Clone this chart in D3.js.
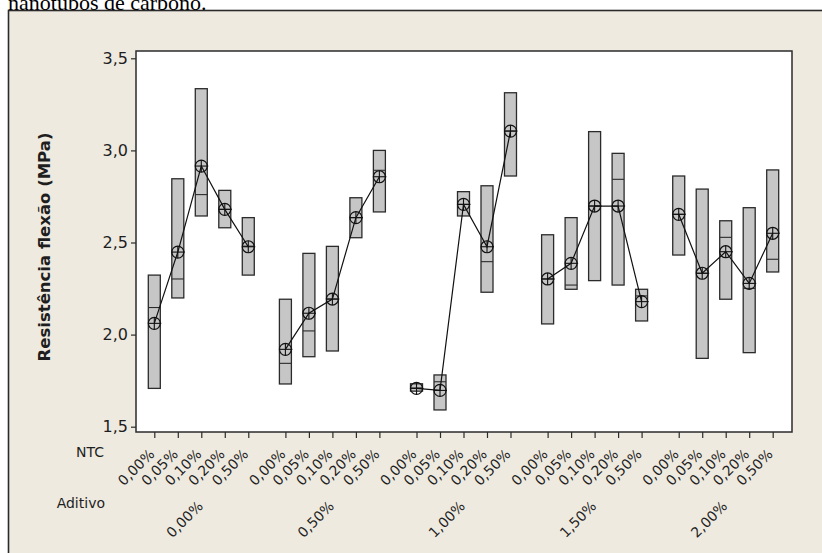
<!DOCTYPE html>
<html>
<head>
<meta charset="utf-8">
<script src="https://cdn.jsdelivr.net/npm/d3@7"></script>
<style>
  body { margin: 0; background: #ffffff; }
  svg { display: block; }
</style>
</head>
<body>
<svg id="chart" width="822" height="553"></svg>
<script>
// Additive levels (outer grouping) and NTC levels (inner grouping)
const aditivo = ["0,00%", "0,50%", "1,00%", "1,50%", "2,00%"];
const ntc = ["0,00%", "0,05%", "0,10%", "0,20%", "0,50%"];
const yTicks = [1.5, 2.0, 2.5, 3.0, 3.5];

// Box limits (lower / upper), median and mean, one row per additive level
const boxLow = [
  [1.708, 2.199, 2.644, 2.580, 2.323],
  [1.732, 1.880, 1.911, 2.526, 2.666],
  [1.693, 1.591, 2.644, 2.230, 2.861],
  [2.058, 2.246, 2.293, 2.269, 2.074],
  [2.432, 1.871, 2.192, 1.902, 2.340]
];
const boxHigh = [
  [2.323, 2.846, 3.335, 2.783, 2.635],
  [2.192, 2.441, 2.479, 2.743, 3.000],
  [1.733, 1.781, 2.776, 2.808, 3.313],
  [2.542, 2.635, 3.102, 2.984, 2.246],
  [2.861, 2.790, 2.618, 2.689, 2.894]
];
const medians = [
  [2.147, 2.302, 2.760, 2.680, 2.480],
  [1.844, 2.020, 2.193, 2.635, 2.892],
  [1.710, 1.744, 2.707, 2.396, 3.105],
  [2.302, 2.269, 2.698, 2.843, 2.210],
  [2.653, 2.333, 2.528, 2.251, 2.409]
];
const means = [
  [2.061, 2.448, 2.915, 2.680, 2.477],
  [1.920, 2.116, 2.193, 2.635, 2.857],
  [1.708, 1.697, 2.707, 2.477, 3.105],
  [2.302, 2.387, 2.698, 2.698, 2.179],
  [2.653, 2.333, 2.450, 2.278, 2.550]
];

const svg = d3.select("#chart");
const W = 822, H = 553;
const plot = { left: 136, top: 51, right: 792, bottom: 432 };
const textColor = "#1e1e1e";
const font = "'DejaVu Sans', Verdana, sans-serif";

// Outer panel
svg.append("rect").attr("x", 0).attr("y", 0).attr("width", W).attr("height", H).attr("fill", "#ffffff");
svg.append("rect").attr("x", 8.5).attr("y", 10.5).attr("width", W + 10).attr("height", H + 10)
  .attr("fill", "#eeeae0").attr("stroke", "#2b2b2b").attr("stroke-width", 1.6);

// Caption line partly visible above the panel
svg.append("text").attr("x", 8).attr("y", 9.5)
  .attr("font-family", "'Liberation Serif', 'Times New Roman', serif")
  .attr("font-size", 22).attr("fill", "#000")
  .text("nanotubos de carbono.");

// Plot area
svg.append("rect").attr("x", plot.left).attr("y", plot.top)
  .attr("width", plot.right - plot.left).attr("height", plot.bottom - plot.top)
  .attr("fill", "#ffffff");

// Scales
const groupGap = 0.58;
const pos = (g, i) => g * (ntc.length + groupGap) + i;
const x = d3.scaleLinear()
  .domain([0, pos(aditivo.length - 1, ntc.length - 1)])
  .range([154.3, 772.7]);
const y = d3.scaleLinear().domain([1.5, 3.5]).range([426.7, 58.3]);

// Y axis
const yAxis = svg.append("g").attr("transform", `translate(${plot.left},0)`)
  .call(d3.axisLeft(y).tickValues(yTicks).tickSize(5).tickPadding(3)
    .tickFormat(d => d3.format(".1f")(d).replace(".", ",")));
yAxis.select(".domain").remove();
yAxis.selectAll("line").attr("stroke", "#2b2b2b").attr("stroke-width", 1.2);
yAxis.selectAll("text").attr("font-family", font).attr("font-size", 16).attr("fill", textColor);

// X axis ticks
const allPos = [];
aditivo.forEach((a, g) => ntc.forEach((n, i) => allPos.push(pos(g, i))));
const xAxis = svg.append("g").attr("transform", `translate(0,${plot.bottom})`)
  .call(d3.axisBottom(x).tickValues(allPos).tickSize(6).tickFormat(""));
xAxis.select(".domain").remove();
xAxis.selectAll("line").attr("stroke", "#2b2b2b").attr("stroke-width", 1.2);

// Inner (NTC) tick labels
aditivo.forEach((a, g) => {
  ntc.forEach((n, i) => {
    svg.append("text")
      .attr("transform", `translate(${x(pos(g, i)) + 1},455) rotate(-45)`)
      .attr("text-anchor", "end")
      .attr("font-family", font).attr("font-size", 14).attr("fill", textColor)
      .text(n);
  });
  // Outer (additive) labels, centred under each group
  svg.append("text")
    .attr("transform", `translate(${x(pos(g, 2)) + 2.5},507) rotate(-45)`)
    .attr("text-anchor", "end")
    .attr("font-family", font).attr("font-size", 14).attr("fill", textColor)
    .text(a);
});

// Row titles for the two x levels
svg.append("text").attr("x", 104).attr("y", 457).attr("text-anchor", "end")
  .attr("font-family", font).attr("font-size", 14).attr("fill", textColor).text("NTC");
svg.append("text").attr("x", 105).attr("y", 508).attr("text-anchor", "end")
  .attr("font-family", font).attr("font-size", 14).attr("fill", textColor).text("Aditivo");

// Y axis title
svg.append("text")
  .attr("transform", "translate(50,247) rotate(-90)")
  .attr("text-anchor", "middle")
  .attr("font-family", font).attr("font-size", 16.5).attr("font-weight", "bold")
  .attr("fill", textColor)
  .text("Resistência flexão (MPa)");

// Boxes and medians
const boxW = 12;
const marks = svg.append("g");
aditivo.forEach((a, g) => {
  ntc.forEach((n, i) => {
    const cx = x(pos(g, i));
    marks.append("rect")
      .attr("x", cx - boxW / 2).attr("width", boxW)
      .attr("y", y(boxHigh[g][i])).attr("height", y(boxLow[g][i]) - y(boxHigh[g][i]))
      .attr("fill", "#c6c6c6").attr("stroke", "#2b2b2b").attr("stroke-width", 1.3);
    marks.append("line")
      .attr("x1", cx - boxW / 2).attr("x2", cx + boxW / 2)
      .attr("y1", y(medians[g][i])).attr("y2", y(medians[g][i]))
      .attr("stroke", "#2b2b2b").attr("stroke-width", 1.1);
  });
});

// Mean connect line, one per additive group
const meanLine = d3.line().x(d => x(d.p)).y(d => y(d.v));
aditivo.forEach((a, g) => {
  const pts = ntc.map((n, i) => ({ p: pos(g, i), v: means[g][i] }));
  marks.append("path").attr("d", meanLine(pts))
    .attr("fill", "none").attr("stroke", "#111").attr("stroke-width", 1.2);
});

// Mean symbols (circle with cross)
const r = 6;
aditivo.forEach((a, g) => {
  ntc.forEach((n, i) => {
    const cx = x(pos(g, i)), cy = y(means[g][i]);
    const s = marks.append("g");
    s.append("circle").attr("cx", cx).attr("cy", cy).attr("r", r)
      .attr("fill", "none").attr("stroke", "#111").attr("stroke-width", 1.2);
    s.append("line").attr("x1", cx - r).attr("x2", cx + r + 1).attr("y1", cy).attr("y2", cy)
      .attr("stroke", "#111").attr("stroke-width", 1.1);
    s.append("line").attr("x1", cx).attr("x2", cx).attr("y1", cy - r).attr("y2", cy + r)
      .attr("stroke", "#111").attr("stroke-width", 1.1);
  });
});

// Plot frame
svg.append("rect").attr("x", plot.left).attr("y", plot.top)
  .attr("width", plot.right - plot.left).attr("height", plot.bottom - plot.top)
  .attr("fill", "none").attr("stroke", "#2b2b2b").attr("stroke-width", 1.5);
</script>
</body>
</html>
